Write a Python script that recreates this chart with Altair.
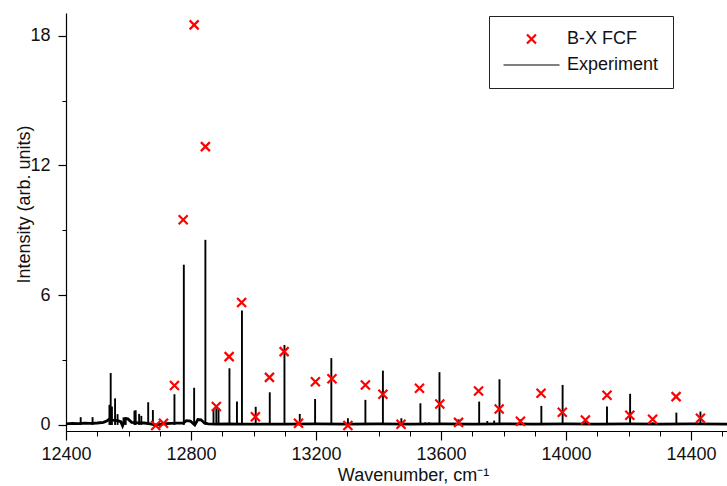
import altair as alt
import pandas as pd

# ---- data ----
fcf_x = [12687, 12712, 12747, 12775, 12810, 12846, 12881, 12922, 12962, 13006,
         13051, 13098, 13144, 13198, 13251, 13302, 13358, 13414, 13472, 13531,
         13596, 13656, 13720, 13786, 13854, 13920, 13988, 14062, 14131, 14204,
         14277, 14352, 14430]
fcf_y = [-0.03, 0.08, 1.82, 9.49, 18.5, 12.87, 0.85, 3.16, 5.66, 0.38,
         2.2, 3.39, 0.08, 2.0, 2.14, -0.03, 1.85, 1.42, 0.03, 1.70,
         0.97, 0.12, 1.57, 0.74, 0.17, 1.47, 0.59, 0.23, 1.37, 0.45,
         0.26, 1.31, 0.31]

exp_x = [12447, 12485, 12539, 12543, 12547, 12557, 12565, 12584, 12591, 12619,
         12623, 12634, 12641, 12663, 12678, 12747, 12777, 12810, 12846, 12872,
         12881, 12888, 12923, 12947, 12963, 13007, 13052, 13099, 13148, 13197,
         13249, 13302, 13358, 13414, 13473, 13534, 13550, 13562, 13595, 13656,
         13722, 13748, 13770, 13787, 13854, 13870, 13921, 13989, 14062, 14131,
         14205, 14277, 14353, 14430]
exp_y = [0.36, 0.36, 0.93, 2.40, 0.85, 1.23, 0.50, 0.35, 0.35, 0.66,
         0.68, 0.51, 0.42, 1.05, 0.69, 1.42, 7.41, 1.72, 8.56, 0.73,
         0.77, 0.77, 2.62, 1.08, 5.29, 0.84, 1.51, 3.70, 0.51, 1.20,
         3.09, 0.31, 1.16, 2.51, 0.31, 1.00, 0.12, 0.12, 2.44, 0.26,
         1.08, 0.18, 0.20, 2.11, 0.26, 0.10, 0.88, 1.85, 0.26, 0.85,
         1.44, 0.12, 0.57, 0.62]

base_x = [12400, 12420, 12440, 12460, 12480, 12500, 12520, 12530, 12538, 12550,
          12565, 12575, 12581, 12590, 12598, 12610, 12630, 12650, 12670, 12685,
          12700, 12720, 12750, 12775, 12785, 12798, 12812, 12822, 12832, 12842,
          12855, 12880, 12920, 12960, 13000, 13100, 13200, 13300, 13400, 13500,
          13600, 13700, 13800, 13900, 14000, 14100, 14200, 14300, 14400, 14515]
base_y = [0.05, 0.07, 0.06, 0.08, 0.07, 0.09, 0.12, 0.18, 0.26, 0.22,
          0.20, 0.15, -0.04, 0.30, 0.28, 0.12, 0.10, 0.09, 0.05, 0.00,
          0.03, 0.06, 0.08, 0.08, 0.20, 0.18, 0.00, 0.25, 0.24, 0.10,
          0.05, 0.04, 0.05, 0.04, 0.04, 0.04, 0.05, 0.04, 0.05, 0.04,
          0.05, 0.04, 0.05, 0.04, 0.05, 0.04, 0.05, 0.04, 0.05, 0.04]

x_major_ticks = [12400, 12800, 13200, 13600, 14000, 14400]
x_minor_ticks = list(range(12400, 14501, 100))
y_major_ticks = [0, 6, 12, 18]
y_minor_ticks = [3, 9, 15]

series_names = ["B-X FCF", "Experiment"]

# ---- tables ----
fcf = pd.DataFrame({"w": fcf_x, "i": fcf_y, "series": series_names[0]})
sticks = pd.DataFrame({"w": exp_x, "i": exp_y, "z": 0.0})
base = pd.DataFrame({"w": base_x, "i": base_y})

FONT = "Liberation Sans"
X_PATH = "M-1,-1L1,1M-1,1L1,-1"

xscale = alt.Scale(domain=[12400, 14515], nice=False, zero=False)
yscale = alt.Scale(domain=[-0.28, 19.05], nice=False, zero=False)

x_major = alt.Axis(values=x_major_ticks, orient="bottom", format="d", grid=False,
                   tickSize=9, tickColor="black", tickWidth=1.2,
                   domainColor="black", domainWidth=1.2,
                   labelFont=FONT, labelFontSize=18, labelColor="#111",
                   labelPadding=5, labelFlush=False,
                   title="Wavenumber, cm\u207b\u00b9", titleFont=FONT, titleFontSize=18,
                   titleFontWeight="normal", titleColor="#111",
                   titleX=347, titleY=49, titleBaseline="alphabetic")
y_major = alt.Axis(values=y_major_ticks, orient="left", grid=False,
                   tickSize=8, tickColor="black", tickWidth=1.2,
                   domainColor="black", domainWidth=1.2,
                   labelFont=FONT, labelFontSize=18, labelColor="#111",
                   labelPadding=8, labelFlush=False,
                   title="Intensity (arb. units)", titleFont=FONT, titleFontSize=18,
                   titleFontWeight="normal", titleColor="#111",
                   titleX=-33, titleY=191, titleAngle=270, titleBaseline="bottom")
x_minor = alt.Axis(values=x_minor_ticks, orient="bottom", grid=False, labels=False,
                   domain=False, tickSize=5, tickColor="black", tickWidth=1, title="")
y_minor = alt.Axis(values=y_minor_ticks, orient="left", grid=False, labels=False,
                   domain=False, tickSize=4, tickColor="black", tickWidth=1, title="")

leg = alt.Legend(title=None, orient="none", legendX=423, legendY=3,
                 strokeColor="#222", padding=14, labelFont=FONT, labelFontSize=18,
                 labelColor="#111", labelOffset=7, rowPadding=8, clipHeight=18)

base_line = alt.Chart(base).mark_line(color="black", strokeWidth=2.8).encode(
    x=alt.X("w:Q", scale=xscale, axis=x_major),
    y=alt.Y("i:Q", scale=yscale, axis=y_major),
)

stick_rules = alt.Chart(sticks).mark_rule(color="black", strokeWidth=1.9).encode(
    x=alt.X("w:Q", scale=xscale, axis=x_minor),
    y=alt.Y("i:Q", scale=yscale, axis=y_minor),
    y2="z:Q",
)

points = alt.Chart(fcf).mark_point(filled=False, opacity=1).encode(
    x=alt.X("w:Q", scale=xscale, axis=None),
    y=alt.Y("i:Q", scale=yscale, axis=None),
    color=alt.Color("series:N", scale=alt.Scale(domain=series_names, range=["#ff0000", "black"]), legend=leg),
    shape=alt.Shape("series:N", scale=alt.Scale(domain=series_names, range=[X_PATH, "stroke"]), legend=leg),
    size=alt.Size("series:N", scale=alt.Scale(domain=series_names, range=[81, 3136]), legend=leg),
    strokeWidth=alt.StrokeWidth("series:N", scale=alt.Scale(domain=series_names, range=[2.2, 1]), legend=leg),
)

chart = alt.layer(base_line, stick_rules, points).resolve_axis(
    x="independent", y="independent"
).properties(
    width=661, height=418,
    autosize=alt.AutoSizeParams(type="none"),
    padding={"left": 66, "top": 13, "right": 0, "bottom": 55},
    background="white",
).configure_view(stroke=None)

chart.save("out.html", embed_options={"renderer": "svg", "actions": False})
